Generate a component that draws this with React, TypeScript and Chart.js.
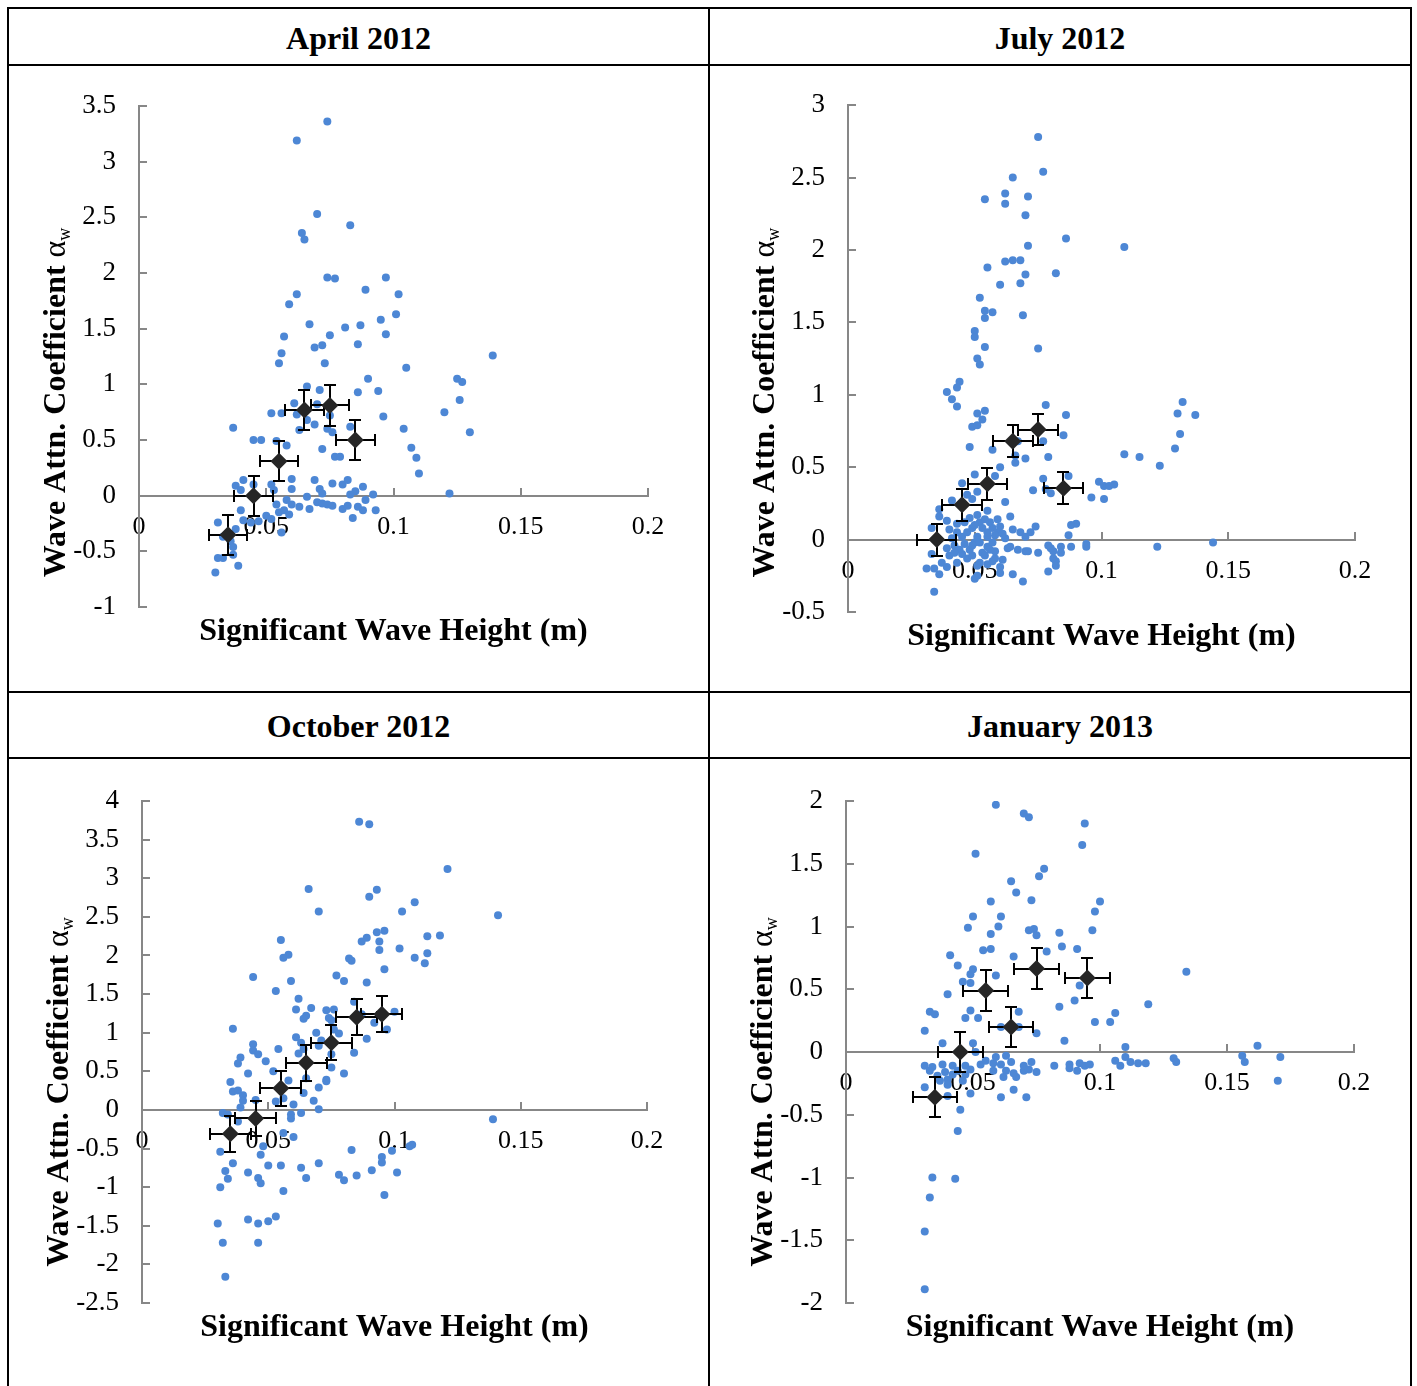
import { useEffect, useRef } from 'react';
import { Chart, registerables } from 'chart.js';

Chart.register(...registerables);

type Pt = [number, number];

// ---- axis ticks ----
const xTicks = [0, 0.05, 0.1, 0.15, 0.2];
const aprilYTicks = [-1, -0.5, 0, 0.5, 1, 1.5, 2, 2.5, 3, 3.5];
const julyYTicks = [-0.5, 0, 0.5, 1, 1.5, 2, 2.5, 3];
const octoberYTicks = [-2.5, -2, -1.5, -1, -0.5, 0, 0.5, 1, 1.5, 2, 2.5, 3, 3.5, 4];
const januaryYTicks = [-2, -1.5, -1, -0.5, 0, 0.5, 1, 1.5, 2];

// ---- individual samples: [Hs (m), alpha_w] ----
const aprilSamples: Pt[] = [
  [0.074, 3.36], [0.062, 3.19], [0.070, 2.53], [0.083, 2.43], [0.064, 2.36], [0.065, 2.30],
  [0.074, 1.96], [0.077, 1.95], [0.097, 1.96], [0.062, 1.81], [0.059, 1.72], [0.089, 1.85],
  [0.102, 1.81], [0.101, 1.63], [0.095, 1.58], [0.067, 1.54], [0.081, 1.51], [0.087, 1.53],
  [0.097, 1.45], [0.057, 1.43], [0.075, 1.44], [0.072, 1.35], [0.069, 1.33], [0.086, 1.36],
  [0.056, 1.28], [0.055, 1.19], [0.073, 1.19], [0.105, 1.15], [0.139, 1.26],
  [0.125, 1.05], [0.127, 1.02], [0.090, 1.05], [0.066, 0.98], [0.071, 0.95], [0.086, 0.93],
  [0.094, 0.94], [0.126, 0.86], [0.061, 0.83], [0.070, 0.82], [0.052, 0.74], [0.056, 0.74],
  [0.062, 0.73], [0.075, 0.72], [0.096, 0.71], [0.120, 0.75], [0.066, 0.68], [0.069, 0.64],
  [0.063, 0.59], [0.074, 0.60], [0.076, 0.57], [0.083, 0.62], [0.104, 0.60], [0.130, 0.57],
  [0.037, 0.61], [0.045, 0.50], [0.048, 0.50], [0.054, 0.49], [0.058, 0.45], [0.072, 0.42],
  [0.107, 0.43], [0.109, 0.34], [0.110, 0.20], [0.077, 0.35], [0.079, 0.35], [0.122, 0.02],
  [0.060, 0.15], [0.069, 0.14], [0.076, 0.11], [0.080, 0.10], [0.082, 0.14], [0.088, 0.08],
  [0.085, 0.04], [0.083, 0.01], [0.092, 0.01], [0.071, 0.06], [0.072, 0.02], [0.060, 0.06],
  [0.052, 0.10], [0.053, 0.05], [0.041, 0.14], [0.038, 0.09], [0.040, 0.05], [0.045, 0.10],
  [0.066, -0.01], [0.058, -0.04], [0.060, -0.08], [0.063, -0.10], [0.067, -0.12], [0.070, -0.06],
  [0.072, -0.07], [0.074, -0.08], [0.076, -0.09], [0.080, -0.12], [0.082, -0.09], [0.086, -0.10],
  [0.088, -0.13], [0.089, -0.04], [0.093, -0.13], [0.084, -0.20], [0.054, -0.08], [0.055, -0.15],
  [0.057, -0.13], [0.059, -0.17], [0.050, -0.18], [0.052, -0.21], [0.047, -0.23], [0.040, -0.13],
  [0.041, -0.22], [0.044, -0.24], [0.056, -0.33], [0.031, -0.24], [0.038, -0.30], [0.033, -0.37],
  [0.036, -0.41], [0.037, -0.46], [0.031, -0.56], [0.033, -0.56], [0.037, -0.53], [0.039, -0.63],
  [0.030, -0.69],
];

const julySamples: Pt[] = [
  [0.075, 2.78], [0.077, 2.54], [0.065, 2.50], [0.062, 2.39], [0.071, 2.37], [0.054, 2.35],
  [0.062, 2.32], [0.070, 2.24], [0.086, 2.08], [0.071, 2.03], [0.109, 2.02], [0.062, 1.92],
  [0.065, 1.93], [0.068, 1.93], [0.055, 1.88], [0.070, 1.83], [0.082, 1.84], [0.068, 1.77],
  [0.060, 1.76], [0.052, 1.67], [0.054, 1.58], [0.057, 1.57], [0.054, 1.53], [0.069, 1.55],
  [0.050, 1.44], [0.050, 1.40], [0.054, 1.33], [0.075, 1.32], [0.051, 1.25], [0.052, 1.21],
  [0.044, 1.09], [0.043, 1.05], [0.039, 1.02], [0.041, 0.97], [0.043, 0.92], [0.051, 0.87],
  [0.054, 0.89], [0.053, 0.83], [0.049, 0.78], [0.051, 0.79], [0.048, 0.64], [0.057, 0.62],
  [0.078, 0.93], [0.086, 0.86], [0.085, 0.72], [0.077, 0.68], [0.067, 0.68], [0.066, 0.58],
  [0.066, 0.53], [0.070, 0.56], [0.079, 0.57], [0.060, 0.50], [0.050, 0.45], [0.058, 0.44],
  [0.045, 0.39], [0.077, 0.42], [0.087, 0.44], [0.073, 0.34], [0.078, 0.35], [0.080, 0.32],
  [0.051, 0.33], [0.041, 0.27], [0.049, 0.28], [0.062, 0.26], [0.047, 0.31], [0.036, 0.21],
  [0.055, 0.20], [0.051, 0.17], [0.036, 0.16], [0.039, 0.13], [0.033, 0.08], [0.040, 0.07],
  [0.043, 0.11], [0.059, 0.14], [0.064, 0.16], [0.074, 0.09], [0.090, 0.11], [0.088, 0.10],
  [0.096, 0.29], [0.101, 0.28], [0.099, 0.40], [0.101, 0.37], [0.103, 0.37], [0.105, 0.38],
  [0.109, 0.59], [0.115, 0.57], [0.123, 0.51], [0.129, 0.63], [0.131, 0.73], [0.130, 0.87],
  [0.132, 0.95], [0.137, 0.86], [0.087, 0.03], [0.065, 0.07], [0.068, 0.05], [0.072, 0.05],
  [0.070, 0.02], [0.122, -0.05], [0.144, -0.02],
  [0.063, -0.06], [0.064, -0.05], [0.067, -0.07], [0.070, -0.08], [0.071, -0.08], [0.075, -0.09],
  [0.079, -0.04], [0.080, -0.06], [0.081, -0.08], [0.084, -0.05], [0.084, -0.09], [0.081, -0.13],
  [0.082, -0.15], [0.082, -0.18], [0.088, -0.05], [0.094, -0.05], [0.094, -0.03], [0.079, -0.22],
  [0.065, -0.24], [0.069, -0.29], [0.061, -0.14], [0.060, -0.19], [0.060, -0.23], [0.058, -0.13],
  [0.050, -0.27], [0.051, -0.25], [0.036, -0.24], [0.034, -0.36], [0.031, -0.20], [0.034, -0.20],
  [0.033, -0.10], [0.037, -0.16], [0.039, -0.19], [0.039, -0.06], [0.042, -0.04], [0.040, -0.11],
  [0.043, -0.16], [0.044, -0.07], [0.047, -0.13], [0.048, -0.07], [0.050, -0.02], [0.052, -0.02],
  [0.053, -0.09], [0.055, -0.05], [0.057, -0.02], [0.058, -0.08], [0.052, -0.16], [0.055, -0.17],
  [0.049, -0.11], [0.051, -0.18],
  [0.043, 0.05], [0.045, 0.02], [0.047, 0.05], [0.049, 0.08], [0.052, 0.12], [0.053, 0.08],
  [0.055, 0.05], [0.057, 0.08], [0.059, 0.05], [0.056, 0.12], [0.051, 0.02], [0.055, 0.02],
  [0.046, 0.12], [0.048, 0.15], [0.054, 0.14], [0.050, 0.10], [0.058, 0.03], [0.060, 0.09],
  [0.062, 0.01], [0.041, 0.01], [0.046, -0.03], [0.054, -0.11], [0.056, -0.07], [0.049, -0.04],
  [0.045, -0.10], [0.057, -0.15], [0.042, -0.09], [0.061, 0.04],
];

const octoberSamples: Pt[] = [
  [0.086, 3.73], [0.090, 3.70], [0.121, 3.12], [0.066, 2.86], [0.093, 2.85], [0.090, 2.76],
  [0.108, 2.69], [0.103, 2.57], [0.070, 2.57], [0.141, 2.52], [0.055, 2.20], [0.093, 2.30],
  [0.096, 2.32], [0.089, 2.23], [0.087, 2.18], [0.094, 2.18], [0.094, 2.07], [0.113, 2.25],
  [0.118, 2.26], [0.102, 2.09], [0.113, 2.03], [0.108, 1.97], [0.112, 1.90], [0.058, 2.01],
  [0.056, 1.97], [0.082, 1.96], [0.083, 1.93], [0.096, 1.82], [0.044, 1.72], [0.059, 1.67],
  [0.077, 1.74], [0.080, 1.67], [0.089, 1.65], [0.053, 1.54], [0.062, 1.44], [0.067, 1.32],
  [0.061, 1.30], [0.073, 1.29], [0.076, 1.30], [0.084, 1.40], [0.065, 1.22], [0.064, 1.18],
  [0.074, 1.19], [0.075, 1.16], [0.087, 1.24], [0.100, 1.27], [0.092, 1.13], [0.036, 1.05],
  [0.076, 1.04], [0.078, 0.99], [0.069, 1.00], [0.097, 1.04], [0.061, 0.94], [0.089, 0.92],
  [0.071, 0.90], [0.063, 0.87], [0.070, 0.83], [0.044, 0.85], [0.054, 0.79], [0.044, 0.77],
  [0.046, 0.72], [0.039, 0.68], [0.084, 0.74], [0.075, 0.72], [0.062, 0.73], [0.064, 0.79],
  [0.080, 0.47], [0.042, 0.47], [0.052, 0.50], [0.035, 0.36], [0.058, 0.38], [0.073, 0.39],
  [0.073, 0.37], [0.070, 0.29], [0.036, 0.24], [0.038, 0.25], [0.040, 0.19], [0.040, 0.12],
  [0.045, 0.13], [0.039, 0.03], [0.053, 0.11], [0.060, 0.07], [0.064, 0.22], [0.068, 0.12],
  [0.070, 0.01], [0.056, 0.15], [0.032, -0.04], [0.034, -0.06], [0.038, -0.15], [0.059, -0.06],
  [0.059, -0.11], [0.063, -0.04], [0.139, -0.12], [0.056, -0.30], [0.060, -0.35], [0.031, -0.54],
  [0.048, -0.47], [0.047, -0.58], [0.083, -0.52], [0.095, -0.61], [0.099, -0.53], [0.106, -0.47],
  [0.107, -0.45], [0.036, -0.69], [0.050, -0.72], [0.055, -0.72], [0.063, -0.75], [0.070, -0.69],
  [0.095, -0.68], [0.033, -0.79], [0.034, -0.89], [0.042, -0.81], [0.046, -0.88], [0.047, -0.95],
  [0.065, -0.88], [0.078, -0.84], [0.080, -0.91], [0.085, -0.85], [0.091, -0.78], [0.101, -0.81],
  [0.031, -1.00], [0.056, -1.05], [0.096, -1.10], [0.030, -1.47], [0.042, -1.42], [0.046, -1.47],
  [0.050, -1.44], [0.053, -1.38], [0.032, -1.72], [0.046, -1.72], [0.033, -2.16], [0.038, 0.60],
  [0.049, 0.63], [0.075, 0.55], [0.065, 0.41],
];

const januarySamples: Pt[] = [
  [0.059, 1.97], [0.070, 1.90], [0.072, 1.87], [0.094, 1.82], [0.093, 1.65], [0.051, 1.58],
  [0.078, 1.46], [0.076, 1.40], [0.065, 1.36], [0.067, 1.27], [0.073, 1.21], [0.057, 1.20],
  [0.100, 1.20], [0.098, 1.12], [0.050, 1.08], [0.061, 1.08], [0.048, 0.99], [0.060, 1.00],
  [0.072, 0.97], [0.074, 0.98], [0.075, 0.93], [0.057, 0.94], [0.097, 0.97], [0.084, 0.95],
  [0.085, 0.84], [0.091, 0.82], [0.079, 0.80], [0.054, 0.81], [0.057, 0.82], [0.066, 0.76],
  [0.041, 0.77], [0.044, 0.69], [0.049, 0.62], [0.050, 0.66], [0.059, 0.61], [0.046, 0.56],
  [0.049, 0.55], [0.134, 0.64], [0.092, 0.53], [0.040, 0.46], [0.090, 0.41], [0.084, 0.36],
  [0.119, 0.38], [0.033, 0.32], [0.035, 0.30], [0.049, 0.33], [0.047, 0.27], [0.052, 0.27],
  [0.068, 0.32], [0.106, 0.31], [0.098, 0.24], [0.104, 0.24], [0.031, 0.17], [0.061, 0.20],
  [0.068, 0.20], [0.075, 0.15], [0.086, 0.09], [0.038, 0.07], [0.050, 0.07], [0.051, 0.00],
  [0.110, 0.04], [0.162, 0.05],
  [0.031, -0.11], [0.034, -0.12], [0.033, -0.15], [0.038, -0.10], [0.042, -0.11], [0.039, -0.16],
  [0.036, -0.19], [0.037, -0.23], [0.040, -0.22], [0.040, -0.26], [0.040, -0.35], [0.031, -0.28],
  [0.042, -0.18], [0.044, -0.15], [0.047, -0.18], [0.047, -0.11], [0.049, -0.14], [0.049, -0.33],
  [0.046, -0.23], [0.053, -0.10], [0.055, -0.07], [0.058, -0.09], [0.059, -0.04], [0.061, -0.10],
  [0.058, -0.15], [0.063, -0.03], [0.065, -0.08], [0.063, -0.15], [0.062, -0.20], [0.067, -0.20],
  [0.066, -0.17], [0.070, -0.15], [0.070, -0.11], [0.073, -0.08], [0.075, -0.16], [0.072, -0.14],
  [0.066, -0.30], [0.071, -0.36], [0.061, -0.36], [0.045, -0.46], [0.044, -0.63], [0.034, -1.00],
  [0.043, -1.01], [0.033, -1.16], [0.031, -1.43], [0.031, -1.89], [0.082, -0.11], [0.088, -0.10],
  [0.088, -0.13], [0.091, -0.15], [0.092, -0.09], [0.094, -0.11], [0.096, -0.10], [0.106, -0.07],
  [0.108, -0.11], [0.110, -0.04], [0.112, -0.08], [0.115, -0.09], [0.118, -0.09], [0.129, -0.05],
  [0.130, -0.08], [0.156, -0.03], [0.157, -0.08], [0.171, -0.04], [0.170, -0.23],
];

// ---- bin means with error bars ----
const aprilBinH = [0.035, 0.045, 0.055, 0.065, 0.075, 0.085];
const aprilBinAlpha = [-0.35, 0.0, 0.31, 0.77, 0.81, 0.5];
const aprilErrH = [0.0076, 0.0076, 0.0076, 0.0076, 0.0076, 0.0076];
const aprilErrAlpha = [0.18, 0.18, 0.18, 0.18, 0.18, 0.18];

const julyBinH = [0.035, 0.045, 0.055, 0.065, 0.075, 0.085];
const julyBinAlpha = [0.0, 0.24, 0.385, 0.68, 0.76, 0.354];
const julyErrH = [0.0078, 0.0078, 0.0078, 0.0078, 0.0078, 0.0078];
const julyErrAlpha = [0.11, 0.11, 0.11, 0.11, 0.11, 0.11];

const octoberBinH = [0.035, 0.045, 0.055, 0.065, 0.075, 0.085, 0.095];
const octoberBinAlpha = [-0.31, -0.11, 0.28, 0.61, 0.87, 1.2, 1.24];
const octoberErrH = [0.0081, 0.0081, 0.0081, 0.0081, 0.0081, 0.0081, 0.0081];
const octoberErrAlpha = [0.23, 0.23, 0.23, 0.23, 0.23, 0.23, 0.23];

const januaryBinH = [0.035, 0.045, 0.055, 0.065, 0.075, 0.095];
const januaryBinAlpha = [-0.36, 0.0, 0.49, 0.2, 0.665, 0.59];
const januaryErrH = [0.0088, 0.0088, 0.0088, 0.0088, 0.0088, 0.0088];
const januaryErrAlpha = [0.16, 0.16, 0.16, 0.16, 0.16, 0.16];

// ---- text ----
const X_TITLE = 'Significant Wave Height (m)';
const Y_TITLE_MAIN = 'Wave Attn. Coefficient ';
const Y_TITLE_SYMBOL = 'α';
const Y_TITLE_SUB = 'w';

// ---- styling ----
const SERIF = '"Liberation Serif", "Times New Roman", serif';
const AXIS_GRAY = '#878787';
const DOT_BLUE = '#4d87d5';
const MEAN_FILL = '#262626';
const CAP = 6;

interface PanelCfg {
  title: string;
  samples: Pt[];
  binH: number[];
  binAlpha: number[];
  errH: number[];
  errAlpha: number[];
  yMin: number;
  yMax: number;
  yTicks: number[];
  width: number;
  pad: { left: number; right: number; top: number; bottom: number };
  yTitleShift: number;
}

const panels: PanelCfg[] = [
  {
    title: 'April 2012', samples: aprilSamples, binH: aprilBinH, binAlpha: aprilBinAlpha,
    errH: aprilErrH, errAlpha: aprilErrAlpha, yMin: -1, yMax: 3.5, yTicks: aprilYTicks,
    width: 699, pad: { left: 30, right: 60, top: 40, bottom: 84 }, yTitleShift: 46,
  },
  {
    title: 'July 2012', samples: julySamples, binH: julyBinH, binAlpha: julyBinAlpha,
    errH: julyErrH, errAlpha: julyErrAlpha, yMin: -0.5, yMax: 3, yTicks: julyYTicks,
    width: 700, pad: { left: 38, right: 55, top: 35, bottom: 79 }, yTitleShift: 44,
  },
  {
    title: 'October 2012', samples: octoberSamples, binH: octoberBinH, binAlpha: octoberBinAlpha,
    errH: octoberErrH, errAlpha: octoberErrAlpha, yMin: -2.5, yMax: 4, yTicks: octoberYTicks,
    width: 699, pad: { left: 33, right: 61, top: 42, bottom: 81 }, yTitleShift: 40,
  },
  {
    title: 'January 2013', samples: januarySamples, binH: januaryBinH, binAlpha: januaryBinAlpha,
    errH: januaryErrH, errAlpha: januaryErrAlpha, yMin: -2, yMax: 2, yTicks: januaryYTicks,
    width: 700, pad: { left: 36, right: 56, top: 42, bottom: 81 }, yTitleShift: 40,
  },
];

// Inward tick marks, error bars under the mean markers, and the axis titles.
function makeDecor(cfg: PanelCfg) {
  return {
    id: 'panelDecor',
    beforeDatasetsDraw(chart: any) {
      const { ctx, chartArea, scales } = chart;
      const xs = scales.x;
      const ys = scales.y;
      const y0 = Math.round(ys.getPixelForValue(0));
      const left = Math.round(chartArea.left);
      ctx.save();
      ctx.strokeStyle = AXIS_GRAY;
      ctx.lineWidth = 2;
      ctx.beginPath();
      xs.ticks.forEach((t: any) => {
        const px = Math.round(xs.getPixelForValue(t.value));
        ctx.moveTo(px, y0);
        ctx.lineTo(px, y0 - 8);
      });
      ys.ticks.forEach((t: any) => {
        const py = Math.round(ys.getPixelForValue(t.value));
        ctx.moveTo(left, py);
        ctx.lineTo(left + 8, py);
      });
      ctx.stroke();
      ctx.restore();
    },
    beforeDatasetDraw(chart: any, args: any) {
      if (args.index !== 0) return;
      const { ctx, scales } = chart;
      const xs = scales.x;
      const ys = scales.y;
      ctx.save();
      ctx.strokeStyle = '#000';
      ctx.lineWidth = 2;
      ctx.beginPath();
      cfg.binH.forEach((h, i) => {
        const a = cfg.binAlpha[i];
        const cx = Math.round(xs.getPixelForValue(h));
        const cy = Math.round(ys.getPixelForValue(a));
        const xl = Math.round(xs.getPixelForValue(h - cfg.errH[i]));
        const xr = Math.round(xs.getPixelForValue(h + cfg.errH[i]));
        const yt = Math.round(ys.getPixelForValue(a + cfg.errAlpha[i]));
        const yb = Math.round(ys.getPixelForValue(a - cfg.errAlpha[i]));
        ctx.moveTo(xl, cy); ctx.lineTo(xr, cy);
        ctx.moveTo(xl, cy - CAP); ctx.lineTo(xl, cy + CAP);
        ctx.moveTo(xr, cy - CAP); ctx.lineTo(xr, cy + CAP);
        ctx.moveTo(cx, yt); ctx.lineTo(cx, yb);
        ctx.moveTo(cx - CAP, yt); ctx.lineTo(cx + CAP, yt);
        ctx.moveTo(cx - CAP, yb); ctx.lineTo(cx + CAP, yb);
      });
      ctx.stroke();
      ctx.restore();
    },
    afterDraw(chart: any) {
      const { ctx, chartArea } = chart;
      ctx.save();
      ctx.fillStyle = '#000';
      ctx.font = `bold 32px ${SERIF}`;
      ctx.textAlign = 'center';
      ctx.textBaseline = 'middle';
      ctx.fillText(X_TITLE, (chartArea.left + chartArea.right) / 2, chartArea.bottom + 25);

      const boldFont = `bold 32px ${SERIF}`;
      const symFont = `32px ${SERIF}`;
      const subFont = `18px ${SERIF}`;
      ctx.font = boldFont;
      const w1 = ctx.measureText(Y_TITLE_MAIN).width;
      ctx.font = symFont;
      const w2 = ctx.measureText(Y_TITLE_SYMBOL).width;
      ctx.font = subFont;
      const w3 = ctx.measureText(Y_TITLE_SUB).width;
      ctx.translate(chartArea.left - 74, (chartArea.top + chartArea.bottom) / 2 + cfg.yTitleShift);
      ctx.rotate(-Math.PI / 2);
      ctx.textAlign = 'left';
      ctx.textBaseline = 'alphabetic';
      let x = -(w1 + w2 + w3) / 2;
      ctx.font = boldFont;
      ctx.fillText(Y_TITLE_MAIN, x, 0);
      x += w1;
      ctx.font = symFont;
      ctx.fillText(Y_TITLE_SYMBOL, x, 0);
      x += w2;
      ctx.font = subFont;
      ctx.fillText(Y_TITLE_SUB, x, 5);
      ctx.restore();
    },
  };
}

function Panel({ cfg }: { cfg: PanelCfg }) {
  const ref = useRef<HTMLCanvasElement | null>(null);

  useEffect(() => {
    if (!ref.current) return;
    const xTickFont = { family: SERIF, size: 26 };
    const yTickFont = { family: SERIF, size: 27 };
    const setTicks = (vals: number[]) => (s: any) => {
      s.ticks = vals.map((v) => ({ value: v }));
    };
    const chart = new Chart(ref.current, {
      type: 'scatter',
      data: {
        datasets: [
          {
            data: cfg.binH.map((h, i) => ({ x: h, y: cfg.binAlpha[i] })),
            pointStyle: 'rectRot',
            pointRadius: 8.5,
            pointHoverRadius: 8.5,
            backgroundColor: MEAN_FILL,
            borderWidth: 0,
          },
          {
            data: cfg.samples.map(([h, a]) => ({ x: h, y: a })),
            pointStyle: 'circle',
            pointRadius: 4,
            pointHoverRadius: 4,
            backgroundColor: DOT_BLUE,
            borderWidth: 0,
          },
        ],
      },
      options: {
        animation: false,
        responsive: false,
        devicePixelRatio: 1,
        events: [],
        layout: { padding: cfg.pad },
        plugins: { legend: { display: false }, tooltip: { enabled: false } },
        scales: {
          x: {
            type: 'linear',
            position: { y: 0 },
            min: 0,
            max: 0.2,
            afterBuildTicks: setTicks(xTicks),
            afterFit: (s: any) => { s.height = 0; },
            ticks: { display: false, autoSkip: false, maxRotation: 0, minRotation: 0 },
            grid: { display: true, drawOnChartArea: false, drawTicks: false },
            border: { display: true, color: AXIS_GRAY, width: 2 },
          },
          xl: {
            type: 'linear',
            axis: 'x',
            position: { y: 0 },
            min: 0,
            max: 0.2,
            z: 1,
            afterBuildTicks: setTicks(xTicks),
            afterFit: (s: any) => { s.height = 0; },
            ticks: {
              font: xTickFont,
              color: '#000',
              padding: 16,
              autoSkip: false,
              maxRotation: 0,
              minRotation: 0,
              callback: (v: any) => String(v),
            },
            grid: { display: false, drawTicks: false },
            border: { display: false },
          },
          y: {
            type: 'linear',
            position: 'left',
            min: cfg.yMin,
            max: cfg.yMax,
            afterBuildTicks: setTicks(cfg.yTicks),
            afterFit: (s: any) => { s.width = 100; },
            ticks: { font: yTickFont, color: '#000', padding: 23, callback: (v: any) => String(v) },
            grid: { display: true, drawOnChartArea: false, drawTicks: false },
            border: { display: true, color: AXIS_GRAY, width: 2 },
          },
        },
      } as any,
      plugins: [makeDecor(cfg)],
    });
    return () => chart.destroy();
  }, [cfg]);

  return <canvas ref={ref} width={cfg.width} height={625} style={{ display: 'block' }} />;
}

const titleCell: React.CSSProperties = {
  background: '#fff',
  display: 'flex',
  alignItems: 'center',
  justifyContent: 'center',
  paddingTop: 3,
  boxSizing: 'border-box',
  fontFamily: SERIF,
  fontWeight: 'bold',
  fontSize: 32,
  color: '#000',
};

const chartCell: React.CSSProperties = { background: '#fff', overflow: 'hidden' };

export default function App() {
  return (
    <div style={{ position: 'absolute', left: 0, top: 0, width: 1417, height: 1386, overflow: 'hidden', background: '#fff' }}>
      <div
        style={{
          position: 'absolute',
          left: 7,
          top: 7,
          display: 'grid',
          gridTemplateColumns: '699px 700px',
          gridTemplateRows: '55px 625px 64px 640px',
          gap: 2,
          padding: 2,
          background: '#000',
        }}
      >
        <div style={titleCell}>{panels[0].title}</div>
        <div style={titleCell}>{panels[1].title}</div>
        <div style={chartCell}><Panel cfg={panels[0]} /></div>
        <div style={chartCell}><Panel cfg={panels[1]} /></div>
        <div style={titleCell}>{panels[2].title}</div>
        <div style={titleCell}>{panels[3].title}</div>
        <div style={chartCell}><Panel cfg={panels[2]} /></div>
        <div style={chartCell}><Panel cfg={panels[3]} /></div>
      </div>
    </div>
  );
}
